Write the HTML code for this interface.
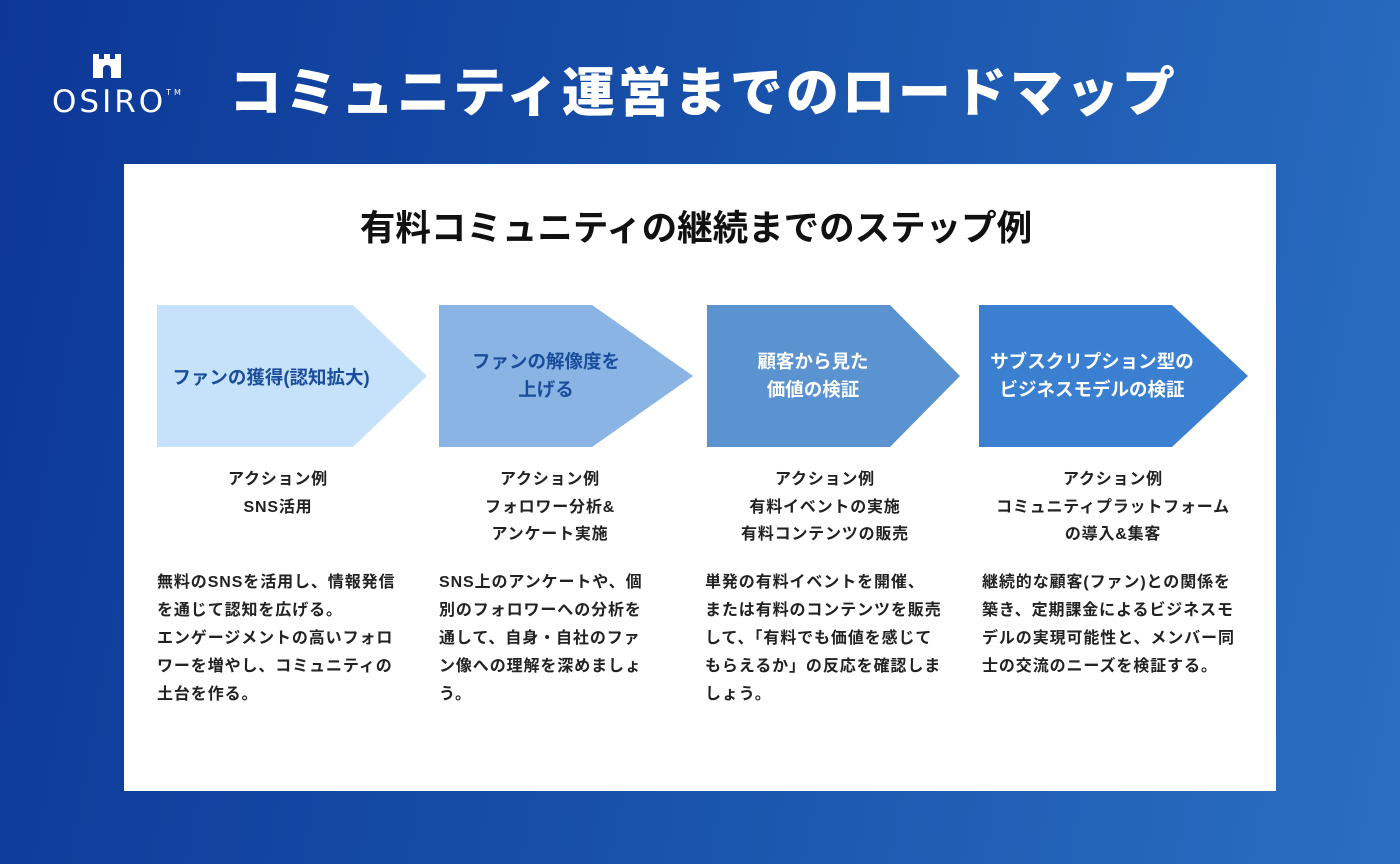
<!DOCTYPE html>
<html><head><meta charset="utf-8"><style>
*{margin:0;padding:0;box-sizing:border-box}
body{width:1400px;height:864px;overflow:hidden;background:linear-gradient(100deg,#0c3797 0%,#174fa8 45%,#2a6fc2 100%);font-family:"Liberation Sans","Noto Sans CJK JP",sans-serif;position:relative}
.abs{position:absolute}
h1{position:absolute;left:229px;top:51px;color:#fff;font-size:53px;font-weight:900;letter-spacing:3px;white-space:nowrap}
.card{position:absolute;left:124px;top:164px;width:1152px;height:627px;background:#fff}
h2{position:absolute;left:0;width:1392px;top:200px;text-align:center;font-size:35.5px;font-weight:700;color:#111}
.lbl{position:absolute;text-align:center;font-size:18.5px;font-weight:700;line-height:28px;display:flex;align-items:center;justify-content:center}
.act{position:absolute;text-align:center;font-size:16px;font-weight:700;color:#222;line-height:27.5px;letter-spacing:0.8px}
.desc{position:absolute;font-size:16px;font-weight:700;color:#222;line-height:28px;width:290px;letter-spacing:0.9px;white-space:nowrap}
</style></head><body>
<div class="abs" style="left:93px;top:54px;width:28px;height:24px;">
<svg width="28" height="24" viewBox="0 0 28 24"><path d="M0 0h6v5h5V0h6v5h5V0h6v24H18v-9a4 4 0 0 0-8 0v9H0z" fill="#fff"/></svg></div>
<div class="abs" style="left:52px;top:84px;color:#fff;font-size:31px;letter-spacing:3px;font-family:'DejaVu Sans',sans-serif">OSIRO<span style="font-size:8px;vertical-align:top;position:relative;top:4px">TM</span></div>
<h1>コミュニティ運営までのロードマップ</h1>
<div class="card"></div>
<h2>有料コミュニティの継続までのステップ例</h2>
<svg class="abs" style="left:0;top:0" width="1400" height="864">
<polygon points="157,305 353,305 427,376 353,447 157,447" fill="#c6e2fb"/>
<polygon points="439,305 592,305 693,376 592,447 439,447" fill="#8ab4e3"/>
<polygon points="707,305 890,305 960,376 890,447 707,447" fill="#5b93d0"/>
<polygon points="979,305 1172,305 1248,376 1172,447 979,447" fill="#3a7fd0"/>
</svg>
<div class="lbl" style="left:150px;top:307px;width:242px;height:142px;color:#1a4d9c">ファンの獲得(認知拡大)</div>
<div class="lbl" style="left:436px;top:305px;width:220px;height:142px;color:#1a4d9c">ファンの解像度を<br>上げる</div>
<div class="lbl" style="left:707px;top:305px;width:212px;height:142px;color:#fff">顧客から見た<br>価値の検証</div>
<div class="lbl" style="left:972px;top:305px;width:240px;height:142px;color:#fff">サブスクリプション型の<br>ビジネスモデルの検証</div>
<div class="act" style="left:168px;top:466px;width:220px">アクション例<br>SNS活用</div>
<div class="act" style="left:440px;top:466px;width:220px">アクション例<br>フォロワー分析&amp;<br>アンケート実施</div>
<div class="act" style="left:700px;top:466px;width:250px">アクション例<br>有料イベントの実施<br>有料コンテンツの販売</div>
<div class="act" style="left:968px;top:466px;width:290px">アクション例<br>コミュニティプラットフォーム<br>の導入&amp;集客</div>
<div class="desc" style="left:157px;top:569px">無料のSNSを活用し、情報発信<br>を通じて認知を広げる。<br>エンゲージメントの高いフォロ<br>ワーを増やし、コミュニティの<br>土台を作る。</div>
<div class="desc" style="left:439px;top:569px">SNS上のアンケートや、個<br>別のフォロワーへの分析を<br>通して、自身・自社のファ<br>ン像への理解を深めましょ<br>う。</div>
<div class="desc" style="left:705px;top:569px">単発の有料イベントを開催、<br>または有料のコンテンツを販売<br>して、「有料でも価値を感じて<br>もらえるか」の反応を確認しま<br>しょう。</div>
<div class="desc" style="left:982px;top:569px">継続的な顧客(ファン)との関係を<br>築き、定期課金によるビジネスモ<br>デルの実現可能性と、メンバー同<br>士の交流のニーズを検証する。</div>
</body></html>
